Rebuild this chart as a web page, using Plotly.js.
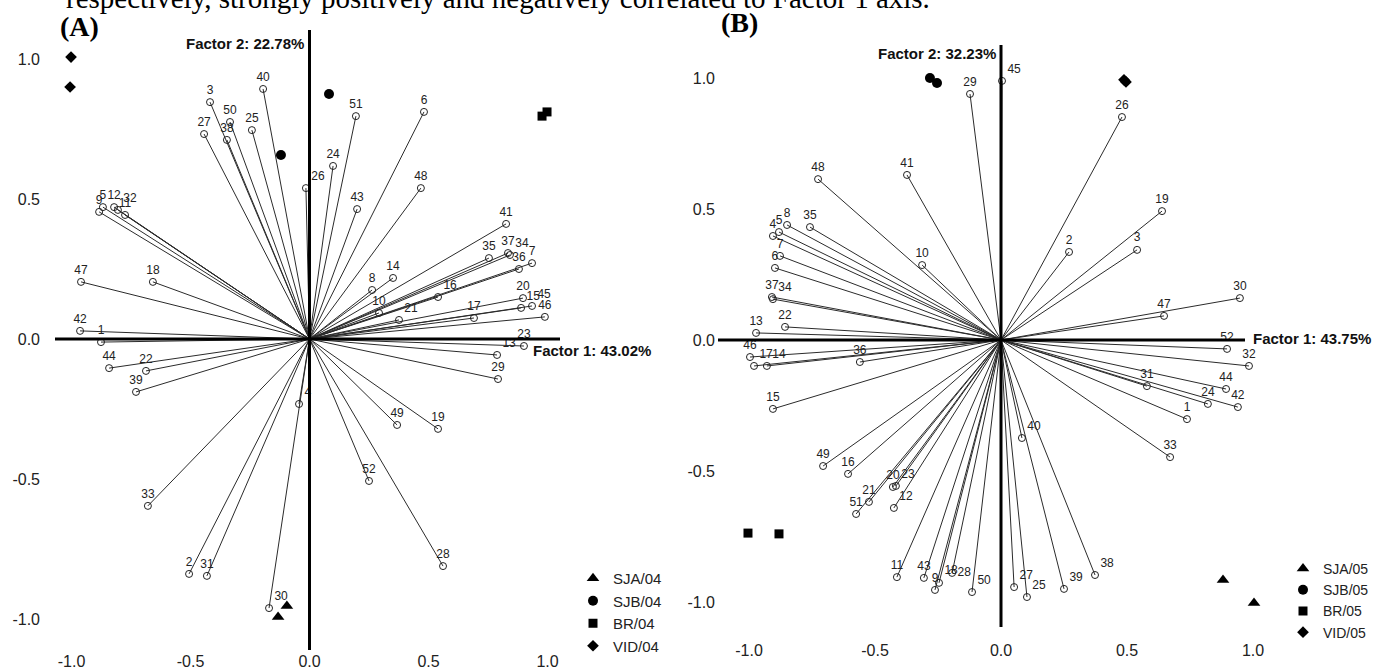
<!DOCTYPE html>
<html><head><meta charset="utf-8">
<script src="https://cdn.plot.ly/plotly-3.0.1.min.js"></script>
<style>html,body{margin:0;padding:0;background:#fff}#chart{width:1380px;height:672px}</style>
</head><body><div id="chart"></div>
<script>
// ---------- DATA ----------
const varLabels = ['1','2','3','4','5','6','7','8','9','10','11','12','13','14','15','16','17','18','19','20','21','22','23','24','25','26',
  '27','28','29','30','31','32','33','34','35','36','37','38','39','40','41','42','43','44','45','46','47','48','49','50','51','52'];

// Panel A (2004) variable loadings
const aF1 = [-0.876,-0.506,-0.418,-0.044,-0.868,0.481,0.935,0.263,-0.884,0.292,-0.775,-0.821,0.788,0.351,0.889,0.540,0.691,-0.658,0.540,0.897,
  0.376,-0.687,0.901,0.099,-0.242,-0.015,-0.443,0.561,0.792,-0.170,-0.431,-0.805,-0.679,0.842,0.754,0.880,0.834,-0.347,-0.729,-0.195,
  0.826,-0.964,0.200,-0.842,0.935,0.989,-0.960,0.468,0.368,-0.334,0.195,0.250];
const aF2 = [-0.011,-0.839,0.846,-0.232,0.471,0.811,0.271,0.175,0.454,0.093,0.443,0.471,-0.057,0.218,0.111,0.150,0.075,0.204,-0.321,0.146,
  0.068,-0.114,-0.025,0.618,0.746,0.539,0.732,-0.811,-0.143,-0.961,-0.846,0.461,-0.596,0.300,0.289,0.250,0.307,0.711,-0.189,0.893,
  0.411,0.029,0.464,-0.104,0.118,0.079,0.204,0.539,-0.307,0.775,0.796,-0.507];

// Panel B (2005) variable loadings
const bF1 = [0.738,0.270,0.540,-0.905,-0.881,-0.897,-0.877,-0.849,-0.262,-0.313,-0.413,-0.425,-0.972,-0.929,-0.905,-0.607,-0.980,-0.246,0.639,-0.429,
  -0.524,-0.857,-0.417,0.821,0.103,0.480,0.052,-0.194,-0.123,0.948,0.579,0.984,0.671,-0.905,-0.758,-0.560,-0.909,0.373,0.250,0.083,
  -0.373,0.940,-0.306,0.893,0.004,-0.996,0.647,-0.726,-0.706,-0.115,-0.575,0.897];
const bF2 = [-0.302,0.336,0.344,0.397,0.412,0.275,0.321,0.439,-0.954,0.286,-0.905,-0.641,0.027,-0.099,-0.263,-0.511,-0.099,-0.927,0.492,-0.561,
  -0.618,0.050,-0.557,-0.244,-0.981,0.851,-0.943,-0.889,0.939,0.160,-0.176,-0.099,-0.447,0.156,0.431,-0.084,0.164,-0.897,-0.950,-0.374,
  0.630,-0.256,-0.908,-0.187,0.989,-0.065,0.092,0.614,-0.481,-0.962,-0.664,-0.034];

// Sample scores
const sitesA = ['SJA/04','SJB/04','BR/04','VID/04'];
const sitesB = ['SJA/05','SJB/05','BR/05','VID/05'];
const sampA_F1 = [[-0.095,-0.132],[0.082,-0.120],[0.977,0.998],[-1.002,-1.006]];
const sampA_F2 = [[-0.954,-0.993],[0.875,0.657],[0.796,0.811],[1.007,0.900]];
const sampB_F1 = [[0.881,1.004],[-0.282,-0.254],[-1.004,-0.881],[0.488,0.496]];
const sampB_F2 = [[-0.916,-1.004],[1.000,0.981],[-0.737,-0.740],[0.993,0.985]];

const tickVals = [-1,-0.5,0,0.5,1];
const tickText = ['-1.0','-0.5','0.0','0.5','1.0'];
const titleA1 = 'Factor 1: 43.02%', titleA2 = 'Factor 2: 22.78%';
const titleB1 = 'Factor 1: 43.75%', titleB2 = 'Factor 2: 32.23%';
const caption = 'respectively, strongly positively and negatively correlated to Factor 1 axis.';

// ---------- STYLE / LAYOUT ----------
const W = 1380, H = 672;
const SANS = 'Liberation Sans, Arial, Helvetica, sans-serif';
const SERIF = 'Liberation Serif, Times New Roman, serif';
const symbols = ['triangle-up','circle','square','diamond'];
const symSizes = [11,10,9,9];

function labelPos(n, overrides){
  const p = new Array(n).fill('top center');
  Object.keys(overrides).forEach(k => { p[Number(k)-1] = overrides[k]; });
  return p;
}
const posA = labelPos(52, {4:'top right',13:'top right',15:'top right',16:'top right',21:'top right',26:'top right',
  30:'top right',32:'top right',34:'top right',45:'top right'});
const posB = labelPos(52, {12:'top right',14:'top right',17:'top right',18:'top right',23:'top right',25:'top right',
  27:'top right',28:'middle right',34:'top right',38:'top right',39:'top right',40:'top right',45:'top right',50:'top right'});

// pixel geometry of each panel: origin pixel, pixels per unit, plot-area box
const geomA = {ox:309.5, oy:339, sx:238, sy:280, left:55, right:560, top:30, bottom:650, axRight:560};
const geomB = {ox:1001, oy:340, sx:252, sy:262, left:718, right:1265, top:45, bottom:627, axRight:1245};
function rngX(g, a, b){ return [(a-g.ox)/g.sx, (b-g.ox)/g.sx]; }
function rngY(g, a, b){ return [(g.oy-b)/g.sy, (g.oy-a)/g.sy]; }

function vectors(xs, ys){
  const lx = [], ly = [];
  xs.forEach((x,i) => { lx.push(0, x, null); ly.push(0, ys[i], null); });
  return {lx, ly};
}

function panelTraces(f1, f2, pos, sites, sx, sy, xa, ya, legendId){
  const v = vectors(f1, f2);
  const tr = [];
  tr.push({type:'scatter', mode:'lines', x:v.lx, y:v.ly, xaxis:xa, yaxis:ya,
    line:{color:'#2b2b2b', width:1}, hoverinfo:'skip', showlegend:false, cliponaxis:false});
  tr.push({type:'scatter', mode:'markers+text', x:f1, y:f2, xaxis:xa, yaxis:ya, text:varLabels,
    textposition:pos, textfont:{family:SANS, size:12, color:'#222'},
    marker:{symbol:'circle-open', size:7, color:'#222', line:{width:1}}, showlegend:false, cliponaxis:false});
  sites.forEach((s,i) => {
    tr.push({type:'scatter', mode:'markers', name:s, x:sx[i], y:sy[i], xaxis:xa, yaxis:ya, legend:legendId,
      marker:{symbol:symbols[i], size:symSizes[i], color:'#000'}, cliponaxis:false});
  });
  return tr;
}

const data = [].concat(
  panelTraces(aF1, aF2, posA, sitesA, sampA_F1, sampA_F2, 'x', 'y', 'legend'),
  panelTraces(bF1, bF2, posB, sitesB, sampB_F1, sampB_F2, 'x2', 'y2', 'legend2')
);

function axis(g, isX, standoff, anchor){
  const base = {showgrid:false, zeroline:false, showline:false, ticks:'', tickvals:tickVals, ticktext:tickText,
    tickfont:{family:SANS, size:16, color:'#222'}, ticklabelstandoff:standoff, anchor:anchor, fixedrange:true};
  if (isX) { base.domain = [g.left/W, g.right/W]; base.range = rngX(g, g.left, g.right); }
  else { base.domain = [1-g.bottom/H, 1-g.top/H]; base.range = rngY(g, g.top, g.bottom); }
  return base;
}

function axisShapes(g, xr, yr){
  const hx = rngX(g, g.left, g.axRight);
  const vy = rngY(g, g.top, g.bottom);
  return [
    {type:'line', xref:xr, yref:yr, x0:hx[0], x1:hx[1], y0:0, y1:0, line:{color:'#000', width:3}, layer:'above'},
    {type:'line', xref:xr, yref:yr, x0:0, x1:0, y0:vy[0], y1:vy[1], line:{color:'#000', width:3}, layer:'above'}
  ];
}

function ann(text, px, py, xanchor, yanchor, font){
  return {text:text, xref:'paper', yref:'paper', x:px/W, y:1-py/H, xanchor:xanchor, yanchor:yanchor,
    showarrow:false, font:font, borderpad:0};
}
const axFont = {family:SANS, size:15, color:'#111', weight:'bold'};

const layout = {
  width:W, height:H, margin:{l:0,r:0,t:0,b:0}, paper_bgcolor:'#fff', plot_bgcolor:'rgba(0,0,0,0)',
  showlegend:true,
  xaxis: axis(geomA, true, 0, 'y'),
  yaxis: axis(geomA, false, 14, 'x'),
  xaxis2: axis(geomB, true, 12, 'y2'),
  yaxis2: axis(geomB, false, 2, 'x2'),
  shapes: [].concat(axisShapes(geomA,'x','y'), axisShapes(geomB,'x2','y2')),
  legend: {x:573/W, y:1-562/H, xanchor:'left', yanchor:'top', bgcolor:'rgba(0,0,0,0)', borderwidth:0,
    font:{family:SANS, size:15, color:'#222'}, tracegroupgap:0, itemclick:false, itemdoubleclick:false},
  legend2: {x:1283/W, y:1-553/H, xanchor:'left', yanchor:'top', bgcolor:'rgba(0,0,0,0)', borderwidth:0,
    font:{family:SANS, size:14, color:'#222'}, tracegroupgap:0, itemclick:false, itemdoubleclick:false},
  annotations: [
    ann(caption, 65, 15, 'left', 'bottom', {family:SERIF, size:29, color:'#000'}),
    ann('(A)', 79, 27, 'center', 'middle', {family:SERIF, size:28, color:'#000', weight:'bold'}),
    ann('(B)', 739, 23, 'center', 'middle', {family:SERIF, size:28, color:'#000', weight:'bold'}),
    ann(titleA2, 305, 43, 'right', 'middle', axFont),
    ann(titleA1, 532, 350, 'left', 'middle', axFont),
    ann(titleB2, 997, 53, 'right', 'middle', axFont),
    ann(titleB1, 1252, 338, 'left', 'middle', axFont)
  ]
};

Plotly.newPlot('chart', data, layout, {staticPlot:true, displayModeBar:false});
</script>
</body></html>
